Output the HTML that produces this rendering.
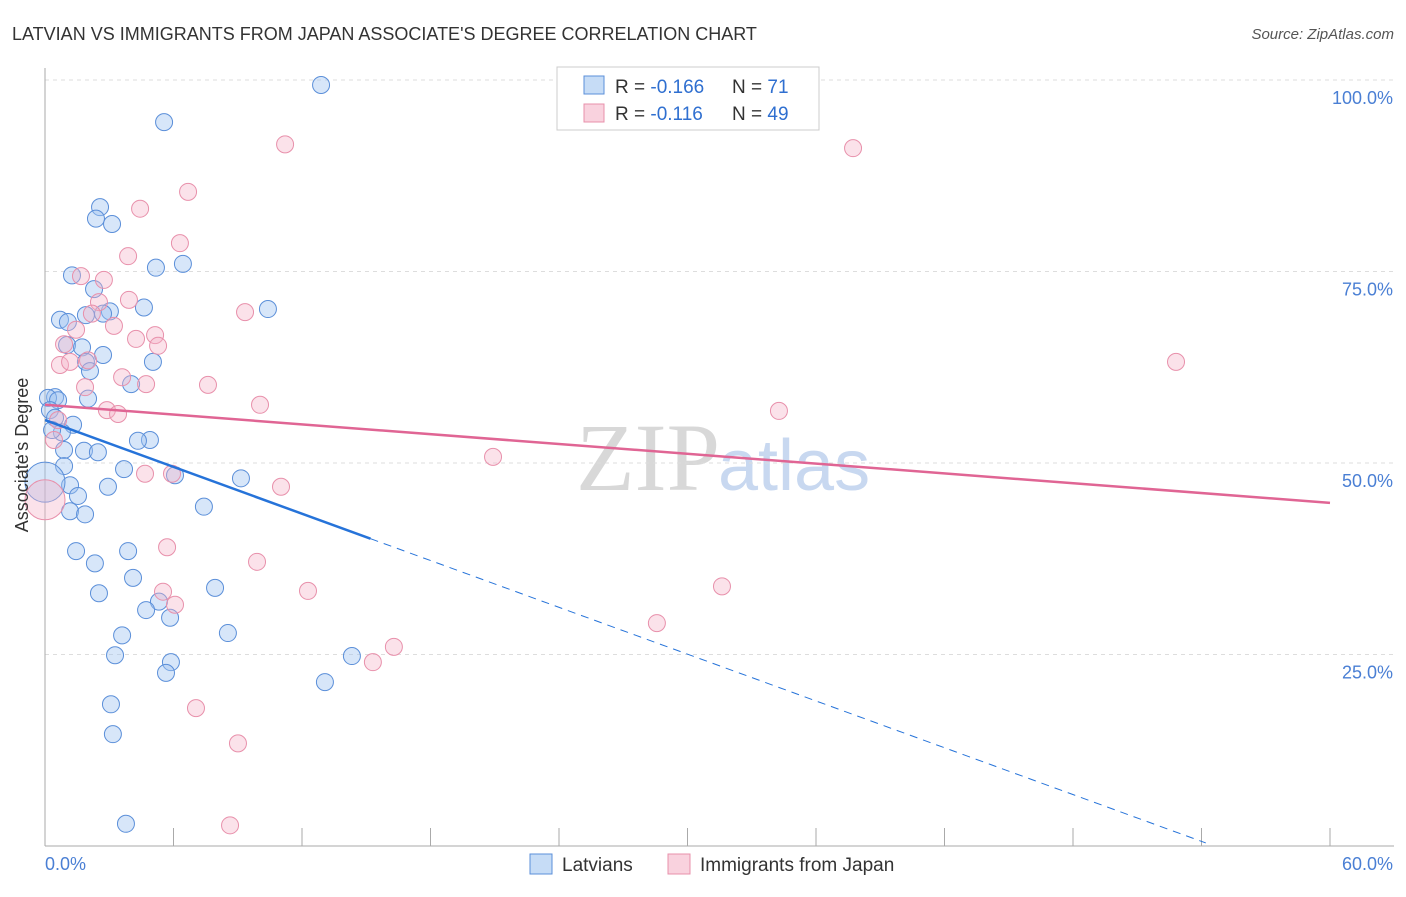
<!DOCTYPE html>
<html><head><meta charset="utf-8"><style>
body{margin:0;background:#fff;font-family:"Liberation Sans",sans-serif;}
</style></head><body>
<svg id="c" width="1406" height="892" xmlns="http://www.w3.org/2000/svg" font-family="Liberation Sans, sans-serif">
<text x="12" y="40" font-size="18" fill="#333">LATVIAN VS IMMIGRANTS FROM JAPAN ASSOCIATE'S DEGREE CORRELATION CHART</text>
<text x="1394" y="39" font-size="15" fill="#555" font-style="italic" text-anchor="end">Source: ZipAtlas.com</text>
<text x="720" y="490" font-size="96" fill="#d8d8d8" text-anchor="end" font-family="Liberation Serif, serif">ZIP</text>
<text x="718" y="490" font-size="72" fill="#c8d8f0">atlas</text>
<g id="grid"></g><g id="axes"></g><g id="pts"></g><g id="trend"></g>
<text x="28" y="455" font-size="18" fill="#333" text-anchor="middle" transform="rotate(-90 28 455)">Associate's Degree</text>
<g>
<rect x="557" y="67" width="262" height="63" fill="#fff" stroke="#ccc"/>
<rect x="584" y="76" width="20" height="18" fill="rgba(160,196,240,0.6)" stroke="#5b8fd9"/>
<rect x="584" y="104" width="20" height="18" fill="rgba(245,180,200,0.6)" stroke="#e890ab"/>
<text x="615" y="93" font-size="19" fill="#333">R = <tspan fill="#2f6fd0">-0.166</tspan></text>
<text x="732" y="93" font-size="19" fill="#333">N = <tspan fill="#2f6fd0"> 71</tspan></text>
<text x="615" y="120" font-size="19" fill="#333">R = <tspan fill="#2f6fd0"> -0.116</tspan></text>
<text x="732" y="120" font-size="19" fill="#333">N = <tspan fill="#2f6fd0">49</tspan></text>
</g>
<g>
<rect x="530" y="854" width="22" height="20" fill="rgba(160,196,240,0.6)" stroke="#5b8fd9"/>
<text x="562" y="871" font-size="19" fill="#333">Latvians</text>
<rect x="668" y="854" width="22" height="20" fill="rgba(245,180,200,0.6)" stroke="#e890ab"/>
<text x="700" y="871" font-size="19" fill="#333">Immigrants from Japan</text>
</g>
</svg>
<script>
const xTicks=[0,6,12,18,24,30,36,42,48,54,60];
const yTicks=[25,50,75,100];
const yTickLabels=["25.0%","50.0%","75.0%","100.0%"];
const latviansX=[12.89,5.56,2.57,2.38,3.13,5.18,6.44,1.26,2.29,4.62,10.41,3.03,1.91,2.71,0.70,1.07,1.03,1.73,2.71,1.91,2.10,5.04,4.02,0.47,0.14,0.61,2.01,0.23,0.47,1.31,0.79,0.33,4.90,4.34,1.82,2.47,0.89,0.89,3.69,6.07,9.15,1.17,1.54,2.94,7.42,1.17,1.87,1.45,3.88,2.33,4.11,7.94,2.52,5.32,4.72,5.84,8.54,3.60,3.27,14.33,5.88,5.65,13.07,3.08,3.17,3.78,0];
const latviansY=[99.35,94.5,83.4,81.9,81.2,75.5,76.0,74.5,72.7,70.3,70.1,69.8,69.3,69.5,68.7,68.4,65.4,65.1,64.1,63.2,62.0,63.2,60.3,58.6,58.5,58.2,58.4,56.9,55.9,55.0,54.0,54.3,53.0,52.9,51.6,51.4,51.7,49.6,49.2,48.4,48.0,47.1,45.7,46.9,44.3,43.7,43.3,38.5,38.5,36.9,35.0,33.7,33.0,31.9,30.8,29.8,27.8,27.5,24.9,24.8,24.0,22.6,21.4,18.5,14.6,2.9,47.5];
const japanX=[11.21,37.73,6.68,4.44,6.30,3.88,1.68,2.75,2.52,3.92,9.34,2.19,3.22,1.45,5.14,4.25,5.28,0.89,0.70,2.01,1.17,52.81,3.60,4.72,7.61,1.87,10.04,2.89,3.41,34.27,0.61,0.42,20.92,4.67,5.93,11.02,0,5.70,9.90,12.28,31.61,5.51,6.07,28.57,16.29,15.31,7.05,9.01,8.64];
const japanY=[91.6,91.1,85.4,83.2,78.7,77.0,74.4,73.9,71.0,71.3,69.7,69.5,67.9,67.4,66.7,66.2,65.3,65.5,62.8,63.4,63.2,63.2,61.2,60.3,60.2,59.9,57.6,56.9,56.4,56.8,55.6,53.0,50.8,48.6,48.6,46.9,45.2,39.0,37.1,33.3,33.9,33.2,31.5,29.1,26.0,24.0,18.0,13.4,2.7];
const latviansTrend=[55.6,0.4];
const japanTrend=[57.6,44.8];
const NS="http://www.w3.org/2000/svg";
const X=v=>45+v/60*1285, Y=v=>846-v/100*766;
function mk(p,t,a){const e=document.createElementNS(NS,t);for(const k in a)e.setAttribute(k,a[k]);p.appendChild(e);return e;}
const grid=document.getElementById('grid'),axes=document.getElementById('axes'),pts=document.getElementById('pts'),tr=document.getElementById('trend');
yTicks.forEach((t,i)=>{
 const l=mk(grid,'line',{x1:45,x2:1394,y1:Y(t),y2:Y(t),stroke:'#ddd','stroke-dasharray':'4,4'});
 
 
 const tx=mk(grid,'text',{x:1393,y:Y(t)+24,'font-size':18,fill:'#4a7fd4','text-anchor':'end'});tx.textContent=yTickLabels[i];
 
 
});
mk(axes,'line',{x1:45,x2:45,y1:68,y2:846,stroke:'#aaa'});
mk(axes,'line',{x1:45,x2:1394,y1:846,y2:846,stroke:'#aaa'});
xTicks.forEach(t=>{const l=mk(axes,'line',{x1:X(t),x2:X(t),y1:828,y2:846,stroke:'#aaa'});
 
 });
let a=mk(axes,'text',{x:45,y:870,'font-size':18,fill:'#4a7fd4'});a.textContent='0.0%';


a=mk(axes,'text',{x:1393,y:870,'font-size':18,fill:'#4a7fd4','text-anchor':'end'});a.textContent='60.0%';


function dots(xs,ys,fill,stroke,name){xs.forEach((x,i)=>{const big=(x===0);
 const c=mk(pts,'circle',{cx:X(x),cy:Y(ys[i]),r:big?20:8.5,fill:fill,stroke:stroke,'stroke-width':1});
 
 });}
dots(latviansX,latviansY,'rgba(160,196,240,0.42)','#5b8fd9','latvian-point');
dots(japanX,japanY,'rgba(245,180,200,0.38)','#e890ab','japan-point');
const bx=(v)=>latviansTrend[0]+(latviansTrend[1]-latviansTrend[0])*v/54.2;
let l=mk(tr,'line',{x1:X(0),y1:Y(bx(0)),x2:X(15.2),y2:Y(bx(15.2)),stroke:'#2673d9','stroke-width':2.5});


l=mk(tr,'line',{x1:X(15.2),y1:Y(bx(15.2)),x2:X(54.2),y2:Y(bx(54.2)),stroke:'#2673d9','stroke-width':1,'stroke-dasharray':'8,6'});


l=mk(tr,'line',{x1:X(0),y1:Y(japanTrend[0]),x2:X(60),y2:Y(japanTrend[1]),stroke:'#e06594','stroke-width':2.5});


</script>
</body></html>
